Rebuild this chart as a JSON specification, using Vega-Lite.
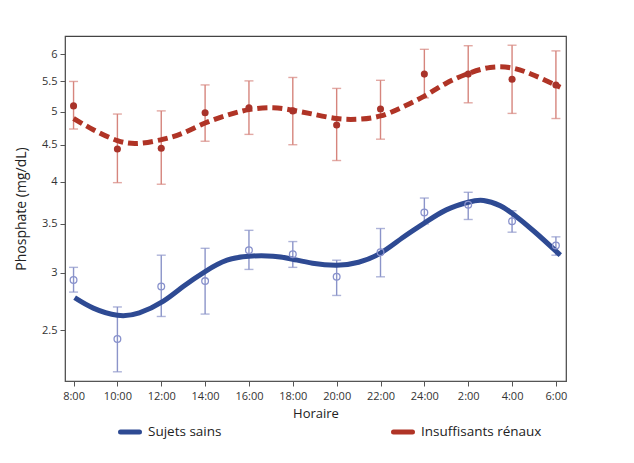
{
  "$schema": "https://vega.github.io/schema/vega-lite/v6.json",
  "autosize": {"type": "pad"},
  "padding": {"left": 14, "top": 36, "right": 60, "bottom": 20},
  "width": 501,
  "height": 345,
  "background": "white",
  "config": {
    "font": "Open Sans",
    "view": {"stroke": "#444", "strokeWidth": 1.2},
    "axis": {"grid": false, "domainColor": "#555", "tickColor": "#555", "labelColor": "#333", "titleColor": "#222", "labelFontSize": 11, "titleFontWeight": "normal", "tickSize": 5}
  },
  "datasets": {
    "pts": [
      {"serie": "Insuffisants rénaux", "h": 8, "v": 5.09, "lo": 4.73, "hi": 5.50},
      {"serie": "Insuffisants rénaux", "h": 10, "v": 4.44, "lo": 3.99, "hi": 4.96},
      {"serie": "Insuffisants rénaux", "h": 12, "v": 4.45, "lo": 3.97, "hi": 5.01},
      {"serie": "Insuffisants rénaux", "h": 14, "v": 4.98, "lo": 4.55, "hi": 5.44},
      {"serie": "Insuffisants rénaux", "h": 16, "v": 5.06, "lo": 4.65, "hi": 5.51},
      {"serie": "Insuffisants rénaux", "h": 18, "v": 5.01, "lo": 4.50, "hi": 5.57},
      {"serie": "Insuffisants rénaux", "h": 20, "v": 4.79, "lo": 4.28, "hi": 5.38},
      {"serie": "Insuffisants rénaux", "h": 22, "v": 5.04, "lo": 4.58, "hi": 5.52},
      {"serie": "Insuffisants rénaux", "h": 24, "v": 5.63, "lo": 5.22, "hi": 6.09},
      {"serie": "Insuffisants rénaux", "h": 26, "v": 5.63, "lo": 5.14, "hi": 6.16},
      {"serie": "Insuffisants rénaux", "h": 28, "v": 5.54, "lo": 4.97, "hi": 6.17},
      {"serie": "Insuffisants rénaux", "h": 30, "v": 5.44, "lo": 4.89, "hi": 6.06},
      {"serie": "Sujets sains", "h": 8, "v": 2.93, "lo": 2.82, "hi": 3.05},
      {"serie": "Sujets sains", "h": 10, "v": 2.43, "lo": 2.19, "hi": 2.69},
      {"serie": "Sujets sains", "h": 12, "v": 2.87, "lo": 2.61, "hi": 3.17},
      {"serie": "Sujets sains", "h": 14, "v": 2.92, "lo": 2.63, "hi": 3.24},
      {"serie": "Sujets sains", "h": 16, "v": 3.22, "lo": 3.03, "hi": 3.43},
      {"serie": "Sujets sains", "h": 18, "v": 3.18, "lo": 3.05, "hi": 3.31},
      {"serie": "Sujets sains", "h": 20, "v": 2.96, "lo": 2.79, "hi": 3.12},
      {"serie": "Sujets sains", "h": 22, "v": 3.20, "lo": 2.96, "hi": 3.45},
      {"serie": "Sujets sains", "h": 24, "v": 3.63, "lo": 3.50, "hi": 3.80},
      {"serie": "Sujets sains", "h": 26, "v": 3.72, "lo": 3.55, "hi": 3.87},
      {"serie": "Sujets sains", "h": 28, "v": 3.53, "lo": 3.41, "hi": 3.65},
      {"serie": "Sujets sains", "h": 30, "v": 3.27, "lo": 3.17, "hi": 3.36}
    ],
    "fit": [
      {"serie": "Insuffisants rénaux", "h": 8.0, "v": 4.89},
      {"serie": "Insuffisants rénaux", "h": 8.9, "v": 4.72},
      {"serie": "Insuffisants rénaux", "h": 10.0, "v": 4.56},
      {"serie": "Insuffisants rénaux", "h": 11.0, "v": 4.52},
      {"serie": "Insuffisants rénaux", "h": 12.1, "v": 4.58},
      {"serie": "Insuffisants rénaux", "h": 13.0, "v": 4.67},
      {"serie": "Insuffisants rénaux", "h": 14.0, "v": 4.82},
      {"serie": "Insuffisants rénaux", "h": 15.0, "v": 4.94},
      {"serie": "Insuffisants rénaux", "h": 16.0, "v": 5.03},
      {"serie": "Insuffisants rénaux", "h": 17.1, "v": 5.06},
      {"serie": "Insuffisants rénaux", "h": 18.0, "v": 5.02},
      {"serie": "Insuffisants rénaux", "h": 18.9, "v": 4.96},
      {"serie": "Insuffisants rénaux", "h": 20.0, "v": 4.89},
      {"serie": "Insuffisants rénaux", "h": 21.0, "v": 4.88},
      {"serie": "Insuffisants rénaux", "h": 22.0, "v": 4.93},
      {"serie": "Insuffisants rénaux", "h": 23.0, "v": 5.07},
      {"serie": "Insuffisants rénaux", "h": 24.0, "v": 5.25},
      {"serie": "Insuffisants rénaux", "h": 25.0, "v": 5.47},
      {"serie": "Insuffisants rénaux", "h": 26.0, "v": 5.64},
      {"serie": "Insuffisants rénaux", "h": 27.0, "v": 5.75},
      {"serie": "Insuffisants rénaux", "h": 28.0, "v": 5.74},
      {"serie": "Insuffisants rénaux", "h": 29.0, "v": 5.61},
      {"serie": "Insuffisants rénaux", "h": 30.2, "v": 5.40},
      {"serie": "Sujets sains", "h": 8.05, "v": 2.77},
      {"serie": "Sujets sains", "h": 8.9, "v": 2.68},
      {"serie": "Sujets sains", "h": 10.0, "v": 2.62},
      {"serie": "Sujets sains", "h": 11.0, "v": 2.64},
      {"serie": "Sujets sains", "h": 12.1, "v": 2.74},
      {"serie": "Sujets sains", "h": 13.0, "v": 2.87},
      {"serie": "Sujets sains", "h": 14.0, "v": 3.01},
      {"serie": "Sujets sains", "h": 15.0, "v": 3.12},
      {"serie": "Sujets sains", "h": 16.0, "v": 3.16},
      {"serie": "Sujets sains", "h": 17.1, "v": 3.16},
      {"serie": "Sujets sains", "h": 18.0, "v": 3.13},
      {"serie": "Sujets sains", "h": 18.9, "v": 3.09},
      {"serie": "Sujets sains", "h": 20.0, "v": 3.07},
      {"serie": "Sujets sains", "h": 21.0, "v": 3.10},
      {"serie": "Sujets sains", "h": 22.0, "v": 3.19},
      {"serie": "Sujets sains", "h": 23.0, "v": 3.35},
      {"serie": "Sujets sains", "h": 24.0, "v": 3.51},
      {"serie": "Sujets sains", "h": 25.0, "v": 3.66},
      {"serie": "Sujets sains", "h": 26.0, "v": 3.75},
      {"serie": "Sujets sains", "h": 26.7, "v": 3.77},
      {"serie": "Sujets sains", "h": 27.45, "v": 3.71},
      {"serie": "Sujets sains", "h": 28.0, "v": 3.62},
      {"serie": "Sujets sains", "h": 29.0, "v": 3.42},
      {"serie": "Sujets sains", "h": 30.2, "v": 3.17}
    ]
  },
  "encoding": {
    "x": {
      "field": "h", "type": "quantitative",
      "scale": {"domain": [7.61, 30.46], "nice": false, "zero": false},
      "axis": {
        "title": "Horaire", "titleFontSize": 13, "titlePadding": 6,
        "values": [8, 10, 12, 14, 16, 18, 20, 22, 24, 26, 28, 30],
        "labelExpr": "(datum.value <= 24 ? datum.value : datum.value - 24) + ':00'",
        "labelPadding": 4, "labelFlush": false
      }
    },
    "y": {
      "field": "v", "type": "quantitative",
      "scale": {"type": "log", "domain": [2.127, 6.353], "nice": false, "zero": false},
      "axis": {
        "title": "Phosphate (mg/dL)", "titleFontSize": 14, "titlePadding": 13,
        "values": [2.5, 3, 3.5, 4, 4.5, 5, 5.5, 6], "format": "~g", "labelPadding": 3
      }
    }
  },
  "layer": [
    {
      "data": {"name": "pts"},
      "transform": [{"filter": "datum.serie == 'Insuffisants rénaux'"}],
      "mark": {"type": "rule", "color": "#d6857d", "strokeWidth": 1.4},
      "encoding": {"y": {"field": "lo", "type": "quantitative"}, "y2": {"field": "hi"}}
    },
    {
      "data": {"name": "pts"},
      "transform": [{"filter": "datum.serie == 'Sujets sains'"}],
      "mark": {"type": "rule", "color": "#8b94c9", "strokeWidth": 1.4},
      "encoding": {"y": {"field": "lo", "type": "quantitative"}, "y2": {"field": "hi"}}
    },
    {
      "data": {"name": "pts"},
      "transform": [{"fold": ["lo", "hi"], "as": ["k", "e"]}, {"filter": "datum.serie == 'Insuffisants rénaux'"}],
      "mark": {"type": "tick", "orient": "horizontal", "color": "#d6857d", "size": 9, "thickness": 1.4},
      "encoding": {"y": {"field": "e", "type": "quantitative"}}
    },
    {
      "data": {"name": "pts"},
      "transform": [{"fold": ["lo", "hi"], "as": ["k", "e"]}, {"filter": "datum.serie == 'Sujets sains'"}],
      "mark": {"type": "tick", "orient": "horizontal", "color": "#8b94c9", "size": 9, "thickness": 1.4},
      "encoding": {"y": {"field": "e", "type": "quantitative"}}
    },
    {
      "data": {"name": "fit"},
      "transform": [{"filter": "datum.serie == 'Sujets sains'"}],
      "mark": {"type": "line", "interpolate": "natural", "strokeWidth": 5, "strokeCap": "butt"},
      "encoding": {
        "color": {
          "field": "serie", "type": "nominal",
          "scale": {"domain": ["Sujets sains", "Insuffisants rénaux"], "range": ["#2e4a93", "#b03426"]},
          "legend": {
            "title": null, "orient": "none", "direction": "horizontal",
            "legendX": 53, "legendY": 384,
            "symbolType": "stroke", "symbolSize": 360, "symbolStrokeWidth": 5,
            "labelFontSize": 13.5, "labelColor": "#222", "labelOffset": 6,
            "columnPadding": 161,
            "encode": {"symbols": {"update": {"strokeDash": {"value": [100, 0]}, "strokeCap": {"value": "round"}}}}
          }
        }
      }
    },
    {
      "data": {"name": "fit"},
      "transform": [{"filter": "datum.serie == 'Insuffisants rénaux'"}],
      "mark": {"type": "line", "interpolate": "natural", "strokeWidth": 5, "strokeCap": "butt", "color": "#b03426"},
      "encoding": {
        "strokeDash": {"field": "serie", "type": "nominal", "scale": {"domain": ["Insuffisants rénaux"], "range": [[10, 5]]}, "legend": null}
      }
    },
    {
      "data": {"name": "pts"},
      "transform": [{"filter": "datum.serie == 'Insuffisants rénaux'"}],
      "mark": {"type": "point", "filled": true, "color": "#a9332a", "size": 50, "opacity": 1}
    },
    {
      "data": {"name": "pts"},
      "transform": [{"filter": "datum.serie == 'Sujets sains'"}],
      "mark": {"type": "point", "filled": false, "color": "#8891cc", "size": 45, "strokeWidth": 1.3, "opacity": 1}
    }
  ]
}
